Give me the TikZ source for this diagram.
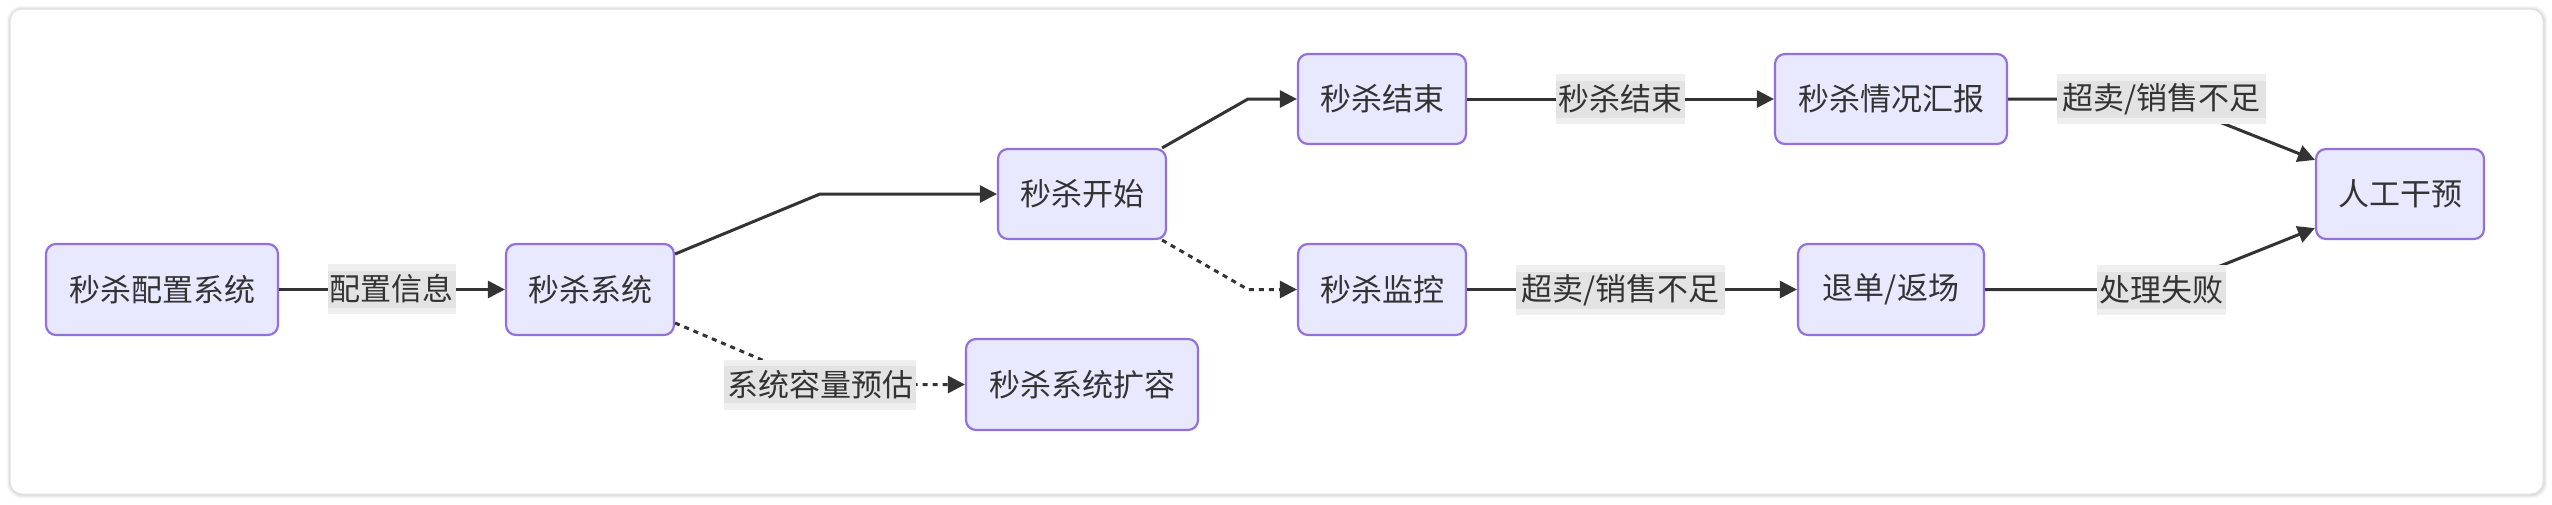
\documentclass[tikz,border=0pt]{standalone}
\usepackage{fontspec}
\setmainfont{Noto Sans CJK SC}
\usetikzlibrary{arrows.meta,positioning}
\definecolor{nodefill}{HTML}{E8E8FF}
\definecolor{nodeborder}{HTML}{9370DB}
\definecolor{edgecol}{HTML}{333333}
\definecolor{txtcol}{HTML}{333333}
\definecolor{lblout}{HTML}{EFEFEF}
\definecolor{lblin}{HTML}{E3E3E3}
\tikzset{
  box/.style={draw=nodeborder, fill=nodefill, line width=2.2pt, rounded corners=10pt,
    minimum height=91pt, inner xsep=0pt, align=center, text=txtcol,
    font=\fontsize{31}{36}\selectfont},
  lbl/.style={fill=lblout, minimum height=50pt, inner xsep=0pt, inner ysep=0pt},
  lblband/.style={fill=lblin, minimum height=37pt, inner sep=0pt},
  lbltext/.style={text=txtcol, font=\fontsize{31}{36}\selectfont, inner sep=0pt},
  edge/.style={draw=edgecol, line width=3pt, -{Triangle[length=17pt,width=17pt]}},
  dotedge/.style={edge, dash pattern=on 5pt off 5pt},
}
\newcommand{\edgelabel}[5]{%
  \node[lbl, minimum width=#4] (#1) at (#2,#3) {};
  \node[lblband, minimum width=#4] at (#1.center) {};
  \node[lbltext] at (#1.center) {#5};
}
\begin{document}
\begin{tikzpicture}[x=1pt,y=-1pt]
\useasboundingbox (0,0) rectangle (2552,504);
% frame with soft shadow
\foreach \o/\c in {6/3,4/7,2/12}{
  \fill[black!\c, rounded corners=14pt] (10-\o/2,9-\o/2) rectangle (2543+\o/2+1,494+\o/2+1);
}
\fill[white, rounded corners=12pt] (10,9) rectangle (2543,494);
\draw[black!12, line width=1pt, rounded corners=12pt] (10,9) rectangle (2543,494);

% nodes
\node[box, minimum width=232pt] (A) at (162,289.5) {秒杀配置系统};
\node[box, minimum width=168pt] (B) at (590,289.5) {秒杀系统};
\node[box, minimum width=168pt, minimum height=90pt] (C) at (1082,194) {秒杀开始};
\node[box, minimum width=232pt] (D) at (1082,384.5) {秒杀系统扩容};
\node[box, minimum width=168pt, minimum height=90pt] (E) at (1382,99) {秒杀结束};
\node[box, minimum width=168pt] (F) at (1382,289.5) {秒杀监控};
\node[box, minimum width=232pt, minimum height=90pt] (G) at (1891,99) {秒杀情况汇报};
\node[box, minimum width=186pt] (H) at (1891,289.5) {退单/返场};
\node[box, minimum width=168pt, minimum height=90pt] (I) at (2400,194) {人工干预};

% waypoints
\coordinate (bc) at (820,194);
\coordinate (bd) at (820,384.5);
\coordinate (ce) at (1248,99);
\coordinate (cf) at (1248,289.5);
\coordinate (gi) at (2161.5,99);
\coordinate (hi) at (2161.5,289.5);
\coordinate (l1) at (391.5,289.5);
\coordinate (l3) at (1620.5,99);
\coordinate (l4) at (1620.5,289.5);

% edges
\draw[edge] (A.east) -- (l1) -- (B.west);
\draw[edge] ([yshift=35.5pt]B.east) -- (bc) -- (C.west);
\draw[dotedge] ([yshift=-33.5pt]B.east) -- (bd) -- (D.west);
\draw[edge] ([xshift=-5pt]C.north east) -- (ce) -- (E.west);
\draw[dotedge] ([xshift=-5pt]C.south east) -- (cf) -- (F.west);
\draw[edge] (E.east) -- (l3) -- (G.west);
\draw[edge] (F.east) -- (l4) -- (H.west);
\draw[edge] (G.east) -- (gi) -- ([yshift=-12pt]I.north west);
\draw[edge] (H.east) -- (hi) -- ([yshift=12pt]I.south west);

% edge labels
\edgelabel{L1}{391.5}{289}{128pt}{配置信息}
\edgelabel{L2}{820}{384.5}{192pt}{系统容量预估}
\edgelabel{L3}{1620.5}{99}{129pt}{秒杀结束}
\edgelabel{L4}{1620.5}{290}{209pt}{超卖/销售不足}
\edgelabel{L5}{2161.5}{99}{209pt}{超卖/销售不足}
\edgelabel{L6}{2161.5}{290}{129pt}{处理失败}
\end{tikzpicture}
\end{document}
